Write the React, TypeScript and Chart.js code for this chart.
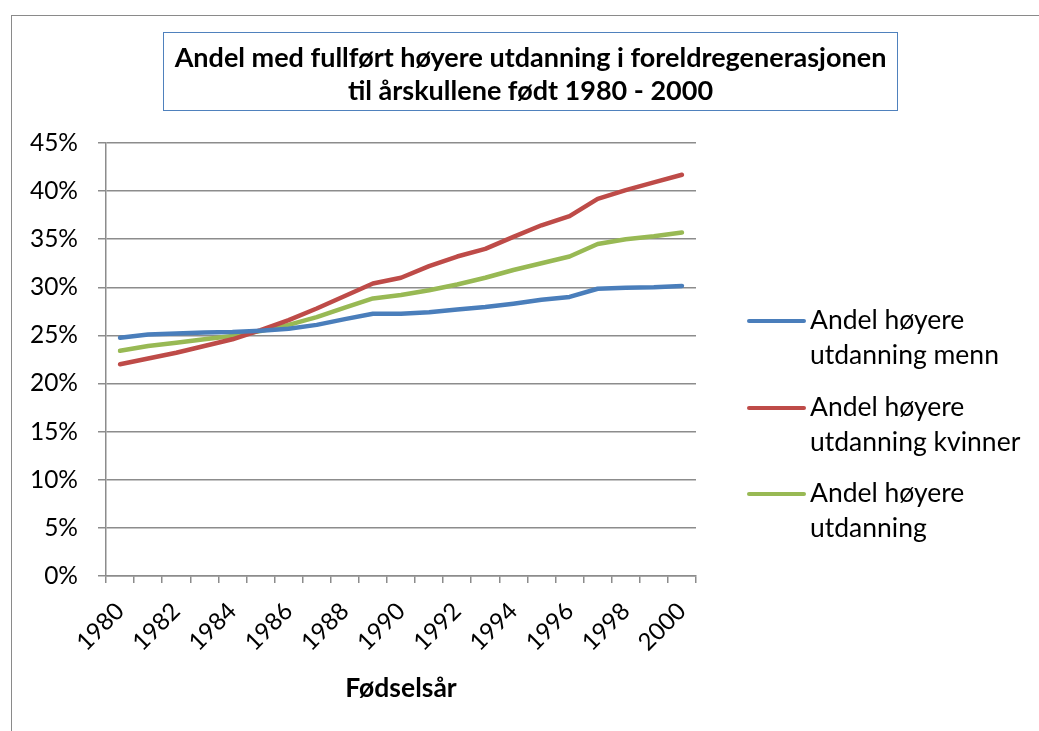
import React, { useEffect, useRef } from 'react';
import { Chart, registerables } from 'chart.js';

Chart.register(...registerables);

const years = ['1980', '1981', '1982', '1983', '1984', '1985', '1986', '1987', '1988', '1989', '1990',
  '1991', '1992', '1993', '1994', '1995', '1996', '1997', '1998', '1999', '2000'];

const menn = [24.75, 25.1, 25.2, 25.3, 25.35, 25.5, 25.7, 26.1, 26.7, 27.25, 27.25,
  27.4, 27.7, 27.95, 28.3, 28.7, 29.0, 29.85, 29.95, 30.0, 30.15];

const kvinner = [22.0, 22.6, 23.2, 23.9, 24.6, 25.55, 26.6, 27.8, 29.1, 30.4, 31.0,
  32.2, 33.2, 34.0, 35.25, 36.45, 37.4, 39.2, 40.1, 40.9, 41.7];

const alle = [23.4, 23.9, 24.25, 24.6, 24.95, 25.45, 26.1, 26.9, 27.9, 28.85, 29.2,
  29.7, 30.3, 31.0, 31.8, 32.5, 33.2, 34.5, 35.0, 35.3, 35.7];

const seriesNames = [
  ['Andel høyere', 'utdanning menn'],
  ['Andel høyere', 'utdanning kvinner'],
  ['Andel høyere', 'utdanning'],
];
const seriesColors = ['#4a7ebb', '#be4b48', '#98b954'];

const titleLines = ['Andel med fullført høyere utdanning i foreldregenerasjonen', 'til årskullene født 1980 - 2000'];
const xTitle = 'Fødselsår';
const yMin = 0;
const yMax = 45;
const yStep = 5;

const FONT = 'Lato, "Open Sans", sans-serif';
const GRID = '#8c8c8c';

export default function App() {
  const canvasRef = useRef<HTMLCanvasElement>(null);

  useEffect(() => {
    const canvas = canvasRef.current;
    if (!canvas) return;
    const chart = new Chart(canvas, {
      type: 'line',
      data: {
        labels: years,
        datasets: [menn, kvinner, alle].map((d, i) => ({
          label: seriesNames[i].join(' '),
          data: d,
          borderColor: seriesColors[i],
          backgroundColor: seriesColors[i],
          borderWidth: 4.5,
          borderCapStyle: 'round' as const,
          borderJoinStyle: 'round' as const,
          pointRadius: 0,
          pointHoverRadius: 0,
          tension: 0,
          fill: false,
        })),
      },
      options: {
        animation: false,
        responsive: false,
        maintainAspectRatio: false,
        layout: { padding: { left: 0, top: 143, right: 1039 - 696, bottom: 0 } },
        plugins: {
          legend: { display: false },
          title: { display: false },
          tooltip: { enabled: false },
        },
        scales: {
          x: {
            type: 'category',
            offset: true,
            grid: {
              offset: true,
              drawOnChartArea: false,
              drawTicks: true,
              tickLength: 7,
              color: GRID,
              lineWidth: 1.5,
            },
            border: { display: true, color: GRID, width: 1.5 },
            ticks: {
              autoSkip: false,
              maxRotation: 45,
              minRotation: 45,
              padding: 14,
              color: '#000',
              font: { family: FONT, size: 24 },
              callback: (_v: any, i: number) => (i % 2 === 0 ? years[i] : ''),
            },
            title: {
              display: true,
              text: xTitle,
              color: '#000',
              font: { family: FONT, size: 26.5, weight: 'bold' },
              padding: { top: 0, bottom: 27 },
            },
            afterFit: (s: any) => {
              s.height = 731 - 576;
            },
          },
          y: {
            min: yMin,
            max: yMax,
            ticks: {
              stepSize: yStep,
              padding: 20,
              color: '#000',
              font: { family: FONT, size: 24.5 },
              callback: (v: any) => `${v}%`,
            },
            grid: { color: GRID, lineWidth: 1.5, tickLength: 8, drawTicks: true },
            border: { display: true, color: GRID, width: 1.5 },
            afterFit: (s: any) => {
              s.width = 106;
            },
          },
        },
      },
    });
    return () => chart.destroy();
  }, []);

  const legendTops = [302, 389, 475];
  const legendLineYs = [321, 408, 494];

  return (
    <div style={{ position: 'fixed', left: 0, top: 0, width: 1039, height: 731, overflow: 'hidden', background: '#fff' }}>
      <div style={{ position: 'absolute', left: 11, top: 15, width: 1200, height: 900, border: '1.5px solid #8a8a8a' }} />
      <canvas ref={canvasRef} width={1039} height={731} style={{ position: 'absolute', left: 0, top: 0, width: 1039, height: 731 }} />
      <div
        style={{
          position: 'absolute', left: 163, top: 32, width: 735, height: 79, boxSizing: 'border-box',
          border: '1.5px solid #4f81bd', display: 'flex', flexDirection: 'column', justifyContent: 'center',
          alignItems: 'center', fontFamily: FONT, fontWeight: 'bold', fontSize: 27, lineHeight: '33px', color: '#000',
          paddingTop: 2, whiteSpace: 'nowrap',
        }}
      >
        {titleLines.map((t, i) => <div key={i}>{t}</div>)}
      </div>
      {seriesNames.map((lines, i) => (
        <React.Fragment key={i}>
          <div style={{ position: 'absolute', left: 747, top: legendLineYs[i] - 2.25, width: 59, height: 4.5, borderRadius: 2.25, background: seriesColors[i] }} />
          <div style={{ position: 'absolute', left: 810, top: legendTops[i], fontFamily: FONT, fontSize: 26.5, lineHeight: '35px', color: '#000', whiteSpace: 'nowrap' }}>
            {lines.map((l, j) => <div key={j}>{l}</div>)}
          </div>
        </React.Fragment>
      ))}
    </div>
  );
}
